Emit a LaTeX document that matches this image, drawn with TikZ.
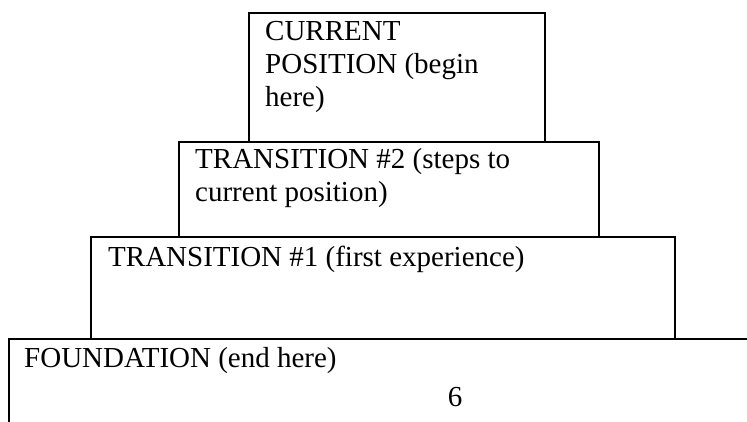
\documentclass[tikz,border=0pt]{standalone}
\usepackage{fontspec}
\setmainfont{Liberation Serif}
\begin{document}
\begin{tikzpicture}[x=1pt,y=-1pt,
  tier/.style={draw=black,line width=1.3pt,rectangle,anchor=north west,inner sep=0pt,outer sep=0pt},
  lbl/.style={anchor=base west,inner sep=0pt,align=left,font=\fontsize{29}{33}\selectfont}]
\useasboundingbox (0,0) rectangle (747,422);
\clip (0,0) rectangle (747,422);
\node[tier,minimum width=296pt,minimum height=129pt] (b1) at (249,13) {};
\node[tier,minimum width=420pt,minimum height=95pt] (b2) at (179,142) {};
\node[tier,minimum width=584pt,minimum height=102pt] (b3) at (91,237) {};
\node[tier,minimum width=800pt,minimum height=120pt] (b4) at (9,339) {};
\node[lbl] (t1) at (265,107) {CURRENT\\POSITION (begin\\here)};
\node[lbl] (t2) at (195,202) {TRANSITION \#2 (steps to\\current position)};
\node[lbl] (t3) at (108,266) {TRANSITION \#1 (first experience)};
\node[lbl] (t4) at (24,367) {FOUNDATION (end here)};
\node[lbl,anchor=base] (pg) at (455,406) {6};
\end{tikzpicture}
\end{document}
